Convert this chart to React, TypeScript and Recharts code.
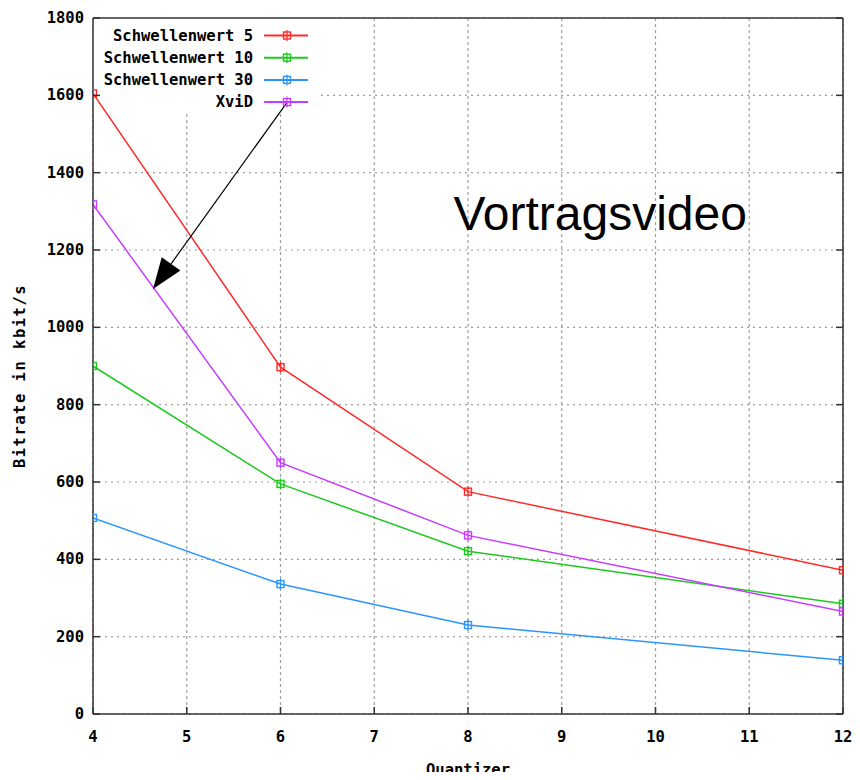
import React from 'react';
import {
  LineChart, Line, XAxis, YAxis, CartesianGrid, ReferenceArea, ReferenceLine, ReferenceDot, Legend,
} from 'recharts';

const quantizer = [4, 6, 8, 12];
const schwellenwert5 = [1605, 897, 575, 372];
const schwellenwert10 = [900, 595, 421, 285];
const schwellenwert30 = [507, 336, 230, 139];
const xvid = [1318, 650, 462, 265];

const seriesNames = ['Schwellenwert 5', 'Schwellenwert 10', 'Schwellenwert 30', 'XviD'];
const seriesKeys = ['s5', 's10', 's30', 'xvid'];
const seriesColors = ['#ff2a2a', '#1ec81e', '#2a95ff', '#c83cff'];

const xTicks = [4, 5, 6, 7, 8, 9, 10, 11, 12];
const yTicks = [0, 200, 400, 600, 800, 1000, 1200, 1400, 1600, 1800];

const titleText = 'Vortragsvideo';
const xLabel = 'Quantizer';
const yLabel = 'Bitrate in kbit/s';

const rows = quantizer.map((q, i) => ({
  q,
  s5: schwellenwert5[i],
  s10: schwellenwert10[i],
  s30: schwellenwert30[i],
  xvid: xvid[i],
}));

const MONO = '"DejaVu Sans Mono", monospace';
const AX = '#333333';

const BottomTick = (props: any) => {
  const { x, y, payload } = props;
  return (
    <g>
      <line x1={x} x2={x} y1={y} y2={y - 7} stroke={AX} strokeWidth={1.5} />
      <text x={x} y={y + 23} textAnchor="middle" dominantBaseline="central"
        fontFamily={MONO} fontWeight="bold" fontSize={15.5} fill="#000">{payload.value}</text>
    </g>
  );
};
const TopTick = (props: any) => {
  const { x, y } = props;
  return <line x1={x} x2={x} y1={y} y2={y + 7} stroke={AX} strokeWidth={1.5} />;
};
const LeftTick = (props: any) => {
  const { x, y, payload } = props;
  return (
    <g>
      <line x1={x} x2={x + 7} y1={y} y2={y} stroke={AX} strokeWidth={1.5} />
      <text x={x - 9} y={y} textAnchor="end" dominantBaseline="central"
        fontFamily={MONO} fontWeight="bold" fontSize={15.5} fill="#000">{payload.value}</text>
    </g>
  );
};
const RightTick = (props: any) => {
  const { x, y } = props;
  return <line x1={x} x2={x - 7} y1={y} y2={y} stroke={AX} strokeWidth={1.5} />;
};

const makeDot = (color: string) => (props: any) => {
  const { cx, cy, index } = props;
  if (cx == null || cy == null) return <g key={index} />;
  return (
    <g key={`d${index}`}>
      <rect x={cx - 3.5} y={cy - 3.5} width={7} height={7} fill="none" stroke={color} strokeWidth={1.4} />
      <line x1={cx} x2={cx} y1={cy - 5.5} y2={cy + 5.5} stroke={color} strokeWidth={1.2} />
    </g>
  );
};

const ArrowShape = (props: any) => {
  const { x1, y1, x2, y2 } = props;
  const dx = x2 - x1;
  const dy = y2 - y1;
  const len = Math.sqrt(dx * dx + dy * dy) || 1;
  const ux = dx / len;
  const uy = dy / len;
  const hl = 31;
  const hw = 11.5;
  const bx = x2 - ux * hl;
  const by = y2 - uy * hl;
  const px = -uy;
  const py = ux;
  return (
    <g>
      <line x1={x1} y1={y1} x2={bx} y2={by} stroke="#000" strokeWidth={1.2} />
      <polygon points={`${x2},${y2} ${bx + px * hw},${by + py * hw} ${bx - px * hw},${by - py * hw}`} fill="#000" />
    </g>
  );
};

const TitleShape = (props: any) => {
  const { cx, cy } = props;
  return (
    <text x={cx} y={cy} textAnchor="middle" fontFamily='"Liberation Sans", Arial, sans-serif'
      fontSize={48} fill="#000">{titleText}</text>
  );
};

const LegendBox = () => (
  <svg width={230} height={100} style={{ display: 'block', overflow: 'visible' }}>
    {seriesNames.map((name, i) => {
      const y = 13.5 + i * 22.2;
      const c = seriesColors[i];
      return (
        <g key={name}>
          <text x={158} y={y} textAnchor="end" dominantBaseline="central" fontFamily={MONO}
            fontWeight="bold" fontSize={15.5} fill="#000">{name}</text>
          <line x1={169} x2={213} y1={y} y2={y} stroke={c} strokeWidth={2} />
          <rect x={188.5} y={y - 3.5} width={7} height={7} fill="none" stroke={c} strokeWidth={1.4} />
          <line x1={192} x2={192} y1={y - 5.5} y2={y + 5.5} stroke={c} strokeWidth={1.2} />
        </g>
      );
    })}
  </svg>
);

export default function App() {
  return (
    <div style={{ width: 852, height: 772, marginBottom: -8 }}>
      <LineChart width={852} height={772} data={rows} margin={{ top: 9, right: 16, left: 0, bottom: 16 }}>
        <CartesianGrid vertical={false} stroke="#a0a0a0" strokeDasharray="2 4" strokeWidth={1.2} />
        <CartesianGrid horizontal={false} stroke="#a0a0a0" strokeDasharray="3 3" strokeWidth={1.2} />
        <ReferenceArea x1={4} x2={6.39} y1={1554} y2={1800} fill="#ffffff" fillOpacity={1} stroke="none" />
        <XAxis dataKey="q" type="number" domain={[4, 12]} ticks={xTicks} interval={0} allowDataOverflow
          height={50} tickLine={false} tickSize={0} tickMargin={0}
          axisLine={{ stroke: AX, strokeWidth: 1.5 }} tick={<BottomTick />}
          label={{
            content: (p: any) => {
              const vb = p.viewBox || {};
              return (
                <text x={vb.x + vb.width / 2} y={vb.y + 56} textAnchor="middle" dominantBaseline="central"
                  fontFamily={MONO} fontWeight="bold" fontSize={15.5} fill="#000">{xLabel}</text>
              );
            },
          }} />
        <XAxis xAxisId="top" orientation="top" type="number" domain={[4, 12]} ticks={xTicks} interval={0}
          allowDataOverflow height={1} tickLine={false} tickSize={0} tickMargin={0}
          axisLine={{ stroke: AX, strokeWidth: 1.5 }} tick={<TopTick />} />
        <YAxis type="number" domain={[0, 1800]} ticks={yTicks} interval={0} allowDataOverflow width={85}
          tickLine={false} tickSize={0} tickMargin={0} axisLine={{ stroke: AX, strokeWidth: 1.5 }}
          tick={<LeftTick />}
          label={{
            content: (p: any) => {
              const vb = p.viewBox || {};
              const x = vb.x + 12;
              const y = vb.y + vb.height / 2 + 10;
              return (
                <text x={x} y={y} textAnchor="middle" dominantBaseline="central" transform={`rotate(-90, ${x}, ${y})`}
                  fontFamily={MONO} fontWeight="bold" fontSize={15.5} letterSpacing={1.5} fill="#000">{yLabel}</text>
              );
            },
          }} />
        <YAxis yAxisId="right" orientation="right" type="number" domain={[0, 1800]} ticks={yTicks} interval={0}
          allowDataOverflow width={1} tickLine={false} tickSize={0} tickMargin={0}
          axisLine={{ stroke: AX, strokeWidth: 1.5 }} tick={<RightTick />} />
        {seriesKeys.map((k, i) => (
          <Line key={k} dataKey={k} name={seriesNames[i]} type="linear" stroke={seriesColors[i]} strokeWidth={1.5}
            dot={makeDot(seriesColors[i])} activeDot={false} isAnimationActive={false} />
        ))}
        <ReferenceLine segment={[{ x: 6.07, y: 1582 }, { x: 4.64, y: 1099 }]} shape={ArrowShape} />
        <ReferenceDot x={9.41} y={1252} r={0} shape={TitleShape} />
        <Legend layout="horizontal" verticalAlign="middle" align="center" content={() => <LegendBox />}
          wrapperStyle={{ position: 'absolute', left: 87, top: 14, width: 230, height: 100 }} />
      </LineChart>
    </div>
  );
}
